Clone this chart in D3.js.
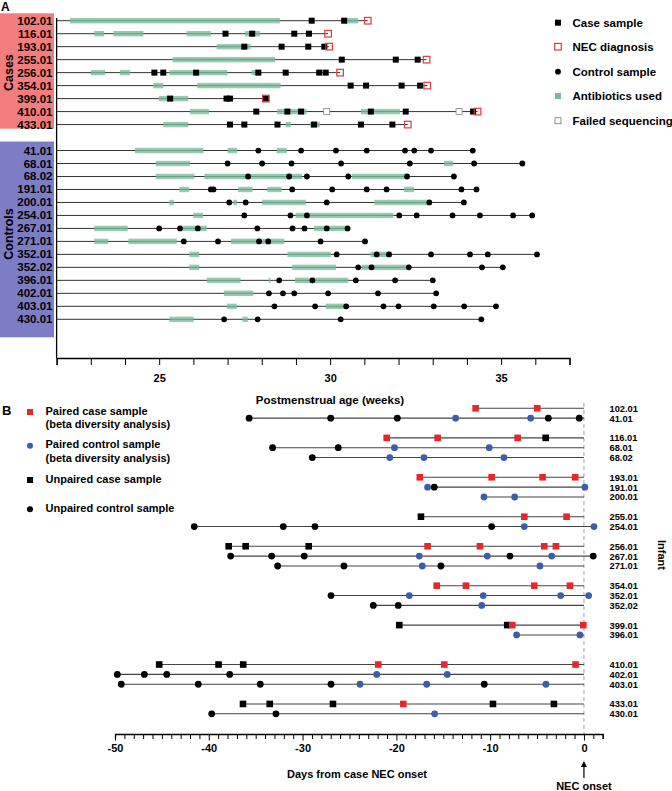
<!DOCTYPE html>
<html>
<head>
<meta charset="utf-8">
<script src="https://cdn.jsdelivr.net/npm/d3@7"></script>
<style>
  body { margin: 0; background: #fff; }
  svg { font-family: "Liberation Sans", Arial, sans-serif; font-weight: bold; }
</style>
</head>
<body>
<svg id="chart" width="672" height="791"></svg>
<script>
"use strict";
// ---- panel A data (postmenstrual age, weeks) ----
const caseIds = ["102.01", "116.01", "193.01", "255.01", "256.01", "354.01", "399.01", "410.01", "433.01"];
const caseAbx = [
  [[22.39, 28.53], [30.45, 30.82]],
  [[23.1, 23.39], [23.66, 24.54], [25.8, 26.51], [27.51, 27.95]],
  [[26.68, 27.68]],
  [[25.39, 28.39]],
  [[23.0, 23.42], [23.85, 24.15], [25.3, 26.99], [27.7, 27.95]],
  [[24.83, 25.12], [26.11, 28.55]],
  [[24.99, 25.85]],
  [[25.9, 26.46], [28.45, 29.31], [30.9, 32.04]],
  [[25.12, 25.85], [28.7, 28.85], [29.41, 29.7]]
];
const caseSamples = [
  [29.46, 30.41],
  [26.94, 27.72, 28.95, 29.38],
  [27.49, 28.58, 29.36, 29.83],
  [30.34, 31.92, 32.56],
  [24.86, 25.12, 26.08, 27.9, 28.7, 29.68, 29.87],
  [30.6, 31.05, 32.09, 32.63],
  [25.32, 26.97, 27.07, 28.12],
  [27.84, 28.75, 29.15, 31.19, 32.21, 34.18],
  [27.07, 27.49, 28.46, 29.53, 30.9, 31.82]
];
const necWeek = [31.1, 29.94, 29.97, 32.82, 30.29, 32.84, 28.12, 34.31, 32.27];
const failedSeq = [[], [], [], [], [], [], [], [29.9, 33.77], []];

const controlIds = ["41.01", "68.01", "68.02", "191.01", "200.01", "254.01", "267.01", "271.01", "352.01", "352.02", "396.01", "402.01", "403.01", "430.01"];
const controlAbx = [
  [[24.29, 26.29], [27.0, 27.28], [28.44, 28.73]],
  [[24.9, 25.9], [33.33, 33.6]],
  [[24.9, 26.03], [26.32, 29.18], [30.63, 32.24]],
  [[25.59, 25.88], [27.31, 27.73], [28.16, 28.58], [32.16, 32.45]],
  [[25.3, 25.43], [27.17, 27.28], [28.01, 29.29], [31.29, 32.9]],
  [[26.0, 26.28], [28.99, 31.85]],
  [[23.1, 24.08], [25.69, 26.39], [29.53, 30.53]],
  [[23.1, 23.51], [24.1, 25.51], [27.1, 28.66]],
  [[25.88, 26.17], [28.75, 30.02], [31.18, 31.81]],
  [[25.88, 26.17], [28.89, 30.17], [30.92, 32.3]],
  [[26.39, 27.38], [28.2, 28.25], [28.97, 30.53]],
  [[26.89, 27.75]],
  [[26.98, 27.27], [29.87, 30.47]],
  [[25.3, 26.01], [27.44, 27.59]]
];
const controlSamples = [
  [27.9, 29.15, 30.17, 31.07, 32.19, 32.46, 32.95, 34.17],
  [27.0, 28.01, 28.87, 30.32, 32.33, 34.21, 35.62],
  [27.6, 28.8, 29.32, 30.53, 32.25, 33.62],
  [26.51, 26.59, 28.89, 30.06, 31.07, 31.65, 33.84, 34.28],
  [27.05, 27.53, 29.9, 32.9, 33.91],
  [27.49, 28.84, 29.32, 32.02, 32.53, 33.58, 34.38, 35.35, 35.91],
  [25.0, 25.61, 26.13, 27.87, 28.9, 29.25, 29.9, 30.51],
  [25.72, 26.72, 27.92, 28.19, 29.72, 31.02],
  [30.19, 31.36, 31.72, 32.95, 34.09, 34.61, 36.05],
  [30.82, 31.21, 32.3, 34.44, 35.05],
  [28.51, 29.48, 30.75, 31.9, 33.0],
  [28.21, 28.62, 28.95, 29.94, 31.4, 33.1],
  [28.37, 29.56, 30.47, 31.56, 32.0, 33.03, 33.92, 34.85],
  [26.9, 27.88, 30.31, 34.42]
];
const weekTicks = d3.range(22, 38);
const weekLabels = [25, 30, 35];
const legendA = ["Case sample", "NEC diagnosis", "Control sample", "Antibiotics used", "Failed sequencing"];

// ---- panel B data (days from case NEC onset) ----
const infantIds = ["102.01", "41.01", null, "116.01", "68.01", "68.02", null, "193.01", "191.01", "200.01", null,
  "255.01", "254.01", null, "256.01", "267.01", "271.01", null, "354.01", "352.01", "352.02", null,
  "399.01", "396.01", null, null, "410.01", "402.01", "403.01", null, "433.01", "430.01"];
const pairedCase = {
  "102.01": [-11.55, -4.98], "116.01": [-21.03, -15.6, -7.07], "193.01": [-17.5, -9.84, -4.41, -0.93],
  "255.01": [-6.36, -1.85], "256.01": [-16.67, -11.09, -4.23, -2.99], "354.01": [-15.7, -12.58, -5.3, -1.49],
  "399.01": [-7.64, -0.07], "410.01": [-21.93, -14.89, -0.89], "433.01": [-19.26]
};
const unpairedCase = {
  "116.01": [-4.08], "255.01": [-17.38], "256.01": [-37.88, -36.07, -29.35], "399.01": [-19.69, -8.18],
  "410.01": [-45.29, -38.96, -36.33], "433.01": [-36.35, -33.5, -26.76, -9.7, -3.2]
};
const pairedControl = {
  "41.01": [-13.68, -5.68], "68.01": [-20.2, -10.1], "68.02": [-20.7, -17.06, -8.53], "191.01": [-16.67, 0.1],
  "200.01": [-10.66, -7.39], "254.01": [-6.36, 1.07], "267.01": [-17.56, -10.31, -3.44], "271.01": [-17.24, -4.69],
  "352.01": [-18.62, -10.74, -2.48, 0.5], "352.02": [-10.9], "396.01": [-7.18, -0.43], "402.01": [-22.1, -14.57],
  "403.01": [-23.88, -16.77, -4.05], "430.01": [-15.92]
};
const unpairedControl = {
  "41.01": [-35.7, -27.0, -19.9, -3.8, -0.5], "68.01": [-33.2, -26.2], "68.02": [-28.97], "191.01": [-15.96],
  "254.01": [-41.55, -32.06, -28.68, -9.84], "267.01": [-37.67, -33.3, -29.82, -7.89, 0.99],
  "271.01": [-32.66, -25.59, -15.25], "352.01": [-26.97], "352.02": [-22.46, -19.8],
  "402.01": [-49.75, -46.87, -44.48, -37.77], "403.01": [-49.33, -41.12, -34.51, -26.97, -10.63],
  "430.01": [-39.69, -32.84]
};
const dayTicks = d3.range(-50, 3);
const dayLabels = [-50, -40, -30, -20, -10, 0];
const legendB = [["Paired case sample", "(beta diversity analysis)"], ["Paired control sample", "(beta diversity analysis)"],
  ["Unpaired case sample"], ["Unpaired control sample"]];

const RED = "#e8262b", BLUE = "#3c5ea8", ABX = "#77bb9a";
const svg = d3.select("#chart");

// ================= Panel A =================
const xA = d3.scaleLinear().domain([22, 37]).range([56.6, 569.5]);
const rowsA = [...caseIds, "", ...controlIds];
const yA = d3.scalePoint().domain(d3.range(rowsA.length)).range([20.7, 319.3]);
const gA = svg.append("g");

svg.append("text").attr("x", 1).attr("y", 11).attr("font-size", 12).text("A");

// group boxes
gA.append("rect").attr("x", 0).attr("y", yA(0) - 7.4).attr("width", 54).attr("height", yA(8) - yA(0) + 11.5).attr("fill", "#f37d7d");
gA.append("rect").attr("x", 0).attr("y", yA(10) - 9).attr("width", 54).attr("height", yA(23) - yA(10) + 27).attr("fill", "#7d7dc6");
gA.append("text").attr("transform", `translate(12.5,${(yA(0) + yA(8)) / 2}) rotate(-90)`).attr("text-anchor", "middle").attr("font-size", 12.5).text("Cases");
gA.append("text").attr("transform", `translate(12.5,234) rotate(-90)`).attr("text-anchor", "middle").attr("font-size", 12.5).text("Controls");

// row labels
gA.selectAll(".rowlab").data(rowsA.map((d, i) => ({ d, i })).filter(r => r.d)).join("text")
  .attr("class", "rowlab").attr("x", 52.5).attr("y", r => yA(r.i) + 4).attr("text-anchor", "end")
  .attr("font-size", 11.5).text(r => r.d);

// axes
gA.append("g").attr("transform", "translate(0,358)")
  .call(d3.axisBottom(xA).tickValues(weekTicks).tickSize(7).tickFormat(d => weekLabels.includes(d) ? d : ""))
  .call(g => g.select(".domain").attr("stroke-width", 1.3))
  .call(g => g.selectAll("text").attr("font-size", 11).attr("font-weight", "bold").attr("font-family", "Liberation Sans, Arial").attr("dy", "1.3em"));
gA.append("line").attr("x1", xA(22)).attr("x2", xA(22)).attr("y1", 18).attr("y2", 358).attr("stroke", "#000").attr("stroke-width", 1.3);
gA.append("text").attr("x", 330).attr("y", 404).attr("text-anchor", "middle").attr("font-size", 11.5).text("Postmenstrual age (weeks)");

function drawRowA(i, abx, samples, end, isCase) {
  const y = yA(i);
  const g = gA.append("g");
  g.append("line").attr("x1", xA(22)).attr("x2", xA(end)).attr("y1", y).attr("y2", y).attr("stroke", "#333").attr("stroke-width", 1);
  g.selectAll(".abx").data(abx).join("rect").attr("x", d => xA(d[0])).attr("width", d => Math.max(1.5, xA(d[1]) - xA(d[0])))
    .attr("y", y - 2.7).attr("height", 5.4).attr("fill", ABX).attr("opacity", 0.78);
  if (isCase) {
    g.selectAll(".s").data(samples).join("rect").attr("x", d => xA(d) - 3).attr("y", y - 3).attr("width", 6).attr("height", 6).attr("fill", "#000");
  } else {
    g.selectAll(".s").data(samples).join("circle").attr("cx", d => xA(d)).attr("cy", y).attr("r", 2.9).attr("fill", "#000");
  }
}
caseIds.forEach((id, k) => {
  drawRowA(k, caseAbx[k], caseSamples[k], necWeek[k], true);
  gA.selectAll(null).data(failedSeq[k]).join("rect").attr("x", d => xA(d) - 3).attr("y", yA(k) - 3).attr("width", 6).attr("height", 6)
    .attr("fill", "#fff").attr("stroke", "#888").attr("stroke-width", 0.8);
  gA.append("rect").attr("x", xA(necWeek[k]) - 3.3).attr("y", yA(k) - 3.3).attr("width", 6.6).attr("height", 6.6)
    .attr("fill", "none").attr("stroke", "#e0393e").attr("stroke-width", 1.2);
});
controlIds.forEach((id, k) => {
  const end = d3.max([...controlSamples[k], ...controlAbx[k].map(a => a[1])]);
  drawRowA(k + 10, controlAbx[k], controlSamples[k], end, false);
});

// legend A
const legA = gA.append("g").attr("transform", "translate(558,0)");
const legAY = [22.7, 46.7, 71.7, 96, 120.7];
legA.append("rect").attr("x", -3).attr("y", legAY[0] - 3).attr("width", 6).attr("height", 6).attr("fill", "#000");
legA.append("rect").attr("x", -3.3).attr("y", legAY[1] - 3.3).attr("width", 6.6).attr("height", 6.6).attr("fill", "none").attr("stroke", "#e0393e").attr("stroke-width", 1.2);
legA.append("circle").attr("cx", 0).attr("cy", legAY[2]).attr("r", 2.9).attr("fill", "#000");
legA.append("rect").attr("x", -3).attr("y", legAY[3] - 3).attr("width", 6).attr("height", 6).attr("fill", ABX);
legA.append("rect").attr("x", -3).attr("y", legAY[4] - 3).attr("width", 6).attr("height", 6).attr("fill", "#fff").attr("stroke", "#777").attr("stroke-width", 0.8);
legA.selectAll("text").data(legendA).join("text").attr("x", 14.5).attr("y", (d, i) => legAY[i] + 4).attr("font-size", 11.5).text(d => d);

// ================= Panel B =================
const xB = d3.scaleLinear().domain([-50, 2]).range([115, 602.7]);
const yB = d3.scaleLinear().domain([0, 31]).range([408.3, 713.8]);
const gB = svg.append("g");
svg.append("text").attr("x", 2).attr("y", 415).attr("font-size", 13).text("B");

gB.append("line").attr("x1", xB(0)).attr("x2", xB(0)).attr("y1", 403).attr("y2", 734)
  .attr("stroke", "#999").attr("stroke-dasharray", "4,3").attr("stroke-width", 0.9);

const axB = gB.append("g").attr("transform", "translate(0,734)")
  .call(d3.axisBottom(xB).tickValues(dayTicks).tickSize(5).tickFormat(d => dayLabels.includes(d) ? d : ""));
axB.select(".domain").attr("stroke-width", 1.3);
axB.selectAll(".tick line").attr("y2", d => dayLabels.includes(d) ? 6.5 : 5);
axB.selectAll("text").attr("font-size", 11).attr("font-weight", "bold").attr("font-family", "Liberation Sans, Arial").attr("dy", "0.95em");
gB.append("text").attr("x", 357).attr("y", 778).attr("text-anchor", "middle").attr("font-size", 11).text("Days from case NEC onset");

// NEC onset arrow
gB.append("line").attr("x1", xB(0)).attr("x2", xB(0)).attr("y1", 764).attr("y2", 778).attr("stroke", "#000").attr("stroke-width", 1.2);
gB.append("path").attr("d", `M${xB(0) - 3},${767} L${xB(0)},${761} L${xB(0) + 3},${767} Z`).attr("fill", "#000");
gB.append("text").attr("x", xB(0)).attr("y", 790).attr("text-anchor", "middle").attr("font-size", 11).text("NEC onset");

infantIds.forEach((id, i) => {
  if (!id) return;
  const y = yB(i);
  const pts = [...(pairedCase[id] || []), ...(unpairedCase[id] || []), ...(pairedControl[id] || []), ...(unpairedControl[id] || [])];
  gB.append("line").attr("x1", xB(d3.min(pts))).attr("x2", xB(Math.max(0, d3.max(pts)))).attr("y1", y).attr("y2", y)
    .attr("stroke", "#444").attr("stroke-width", 1.1);
  gB.selectAll(null).data(unpairedControl[id] || []).join("circle").attr("cx", d => xB(d)).attr("cy", y).attr("r", 3.4).attr("fill", "#000");
  gB.selectAll(null).data(unpairedCase[id] || []).join("rect").attr("x", d => xB(d) - 3.3).attr("y", y - 3.3).attr("width", 6.6).attr("height", 6.6).attr("fill", "#000");
  gB.selectAll(null).data(pairedControl[id] || []).join("circle").attr("cx", d => xB(d)).attr("cy", y).attr("r", 3.4).attr("fill", BLUE);
  gB.selectAll(null).data(pairedCase[id] || []).join("rect").attr("x", d => xB(d) - 3.3).attr("y", y - 3.3).attr("width", 6.6).attr("height", 6.6).attr("fill", RED);
  gB.append("text").attr("x", 609.5).attr("y", y + 3.4).attr("font-size", 9.3).text(id);
});
gB.append("text").attr("transform", "translate(658,555) rotate(90)").attr("text-anchor", "middle").attr("font-size", 11).text("Infant");

// legend B
const legB = gB.append("g");
const legBY = [412, 445.7, 480, 509.3];
legB.append("rect").attr("x", 27).attr("y", legBY[0] - 3).attr("width", 6).attr("height", 6).attr("fill", RED);
legB.append("circle").attr("cx", 30).attr("cy", legBY[1]).attr("r", 3).attr("fill", BLUE);
legB.append("rect").attr("x", 27).attr("y", legBY[2] - 3).attr("width", 6).attr("height", 6).attr("fill", "#000");
legB.append("circle").attr("cx", 30).attr("cy", legBY[3]).attr("r", 3).attr("fill", "#000");
legendB.forEach((lines, i) => {
  lines.forEach((t, j) => {
    legB.append("text").attr("x", 45.5).attr("y", legBY[i] + 2.5 + j * 13.6).attr("font-size", 11).text(t);
  });
});
</script>
</body>
</html>
